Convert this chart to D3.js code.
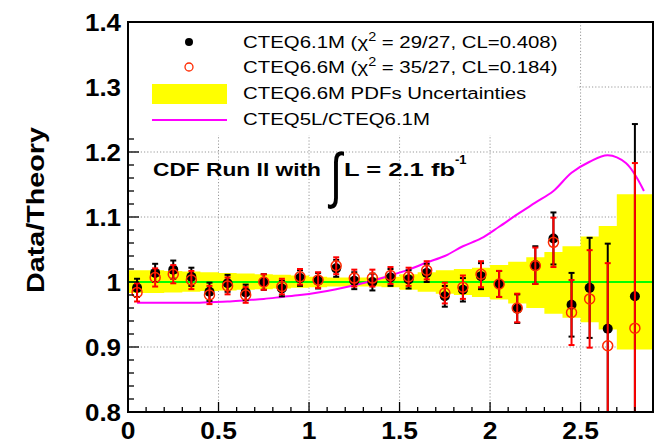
<!DOCTYPE html>
<html>
<head>
<meta charset="utf-8">
<script src="https://cdn.jsdelivr.net/npm/d3@7"></script>
<style>
  body { margin: 0; background: #fff; }
  svg { display: block; }
  text { font-family: "Liberation Sans", Arial, Helvetica, sans-serif; }
</style>
</head>
<body>
<script>
// Z boson rapidity bins: centers, measured Data/Theory ratios and errors
const rapidity = [0.05, 0.15, 0.25, 0.35, 0.45, 0.55, 0.65, 0.75, 0.85, 0.95,
                  1.05, 1.15, 1.25, 1.35, 1.45, 1.55, 1.65, 1.75, 1.85, 1.95,
                  2.05, 2.15, 2.25, 2.35, 2.45, 2.55, 2.65, 2.80];
const ratioCteq61 = [0.991, 1.014, 1.019, 1.008, 0.985, 0.998, 0.984, 1.000, 0.990, 1.006,
                     1.002, 1.021, 1.002, 1.000, 1.007, 1.004, 1.014, 0.978, 0.988, 1.009,
                     0.997, 0.959, 1.026, 1.067, 0.965, 0.991, 0.928, 0.978];
const errCteq61   = [0.014, 0.014, 0.014, 0.014, 0.014, 0.013, 0.012, 0.012, 0.012, 0.012,
                     0.012, 0.013, 0.013, 0.013, 0.013, 0.014, 0.014, 0.016, 0.018, 0.020,
                     0.020, 0.022, 0.029, 0.040, 0.049, 0.077, 0.131, 0.265];
const ratioCteq66 = [0.984, 1.007, 1.012, 1.003, 0.980, 0.994, 0.980, 1.000, 0.993, 1.008,
                     1.003, 1.025, 1.006, 1.006, 1.010, 1.008, 1.018, 0.983, 0.992, 1.012,
                     0.997, 0.960, 1.025, 1.061, 0.953, 0.974, 0.902, 0.929];
const errCteq66   = [0.014, 0.014, 0.014, 0.014, 0.014, 0.013, 0.012, 0.012, 0.012, 0.012,
                     0.012, 0.013, 0.013, 0.013, 0.013, 0.014, 0.014, 0.016, 0.018, 0.020,
                     0.020, 0.022, 0.028, 0.038, 0.050, 0.075, 0.127, 0.254];

// CTEQ6.6M PDF uncertainty band, one step per bin
const bandEdges = [0.0, 0.1, 0.2, 0.3, 0.4, 0.5, 0.6, 0.7, 0.8, 0.9, 1.0, 1.1, 1.2, 1.3, 1.4,
                   1.5, 1.6, 1.7, 1.8, 1.9, 2.0, 2.1, 2.2, 2.3, 2.4, 2.5, 2.6, 2.7, 2.9];
const bandUpper = [1.018, 1.018, 1.017, 1.016, 1.015, 1.014, 1.013, 1.012, 1.011, 1.010,
                   1.008, 1.007, 1.007, 1.007, 1.008, 1.012, 1.015, 1.018, 1.020, 1.022,
                   1.026, 1.031, 1.038, 1.046, 1.055, 1.070, 1.086, 1.135];
const bandLower = [0.983, 0.983, 0.984, 0.985, 0.986, 0.987, 0.988, 0.989, 0.990, 0.991,
                   0.992, 0.993, 0.993, 0.993, 0.992, 0.988, 0.985, 0.982, 0.980, 0.977,
                   0.973, 0.967, 0.960, 0.951, 0.945, 0.938, 0.927, 0.896];

// CTEQ5L / CTEQ6.1M prediction ratio
const cteq5lX     = [0.05, 0.15, 0.25, 0.35, 0.45, 0.55, 0.65, 0.75, 0.85, 0.95,
                     1.05, 1.15, 1.25, 1.35, 1.45, 1.55, 1.65, 1.75, 1.85, 1.95,
                     2.05, 2.15, 2.25, 2.35, 2.45, 2.55, 2.65, 2.75, 2.85];
const cteq5lRatio = [0.968, 0.968, 0.968, 0.968, 0.969, 0.970, 0.972, 0.974, 0.977, 0.980,
                     0.984, 0.989, 0.995, 1.002, 1.010, 1.019, 1.030, 1.040, 1.055, 1.067,
                     1.085, 1.104, 1.122, 1.140, 1.168, 1.185, 1.195, 1.183, 1.140];

const xTicks = [0, 0.5, 1, 1.5, 2, 2.5];
const xTickLabels = ["0", "0.5", "1", "1.5", "2", "2.5"];
const yTicks = [0.8, 0.9, 1.0, 1.1, 1.2, 1.3, 1.4];
const yTickLabels = ["0.8", "0.9", "1", "1.1", "1.2", "1.3", "1.4"];

const W = 660, H = 447;
const plot = { left: 128, right: 653, top: 22, bottom: 412 };

const svg = d3.select("body").append("svg")
  .attr("width", W).attr("height", H);

const x = d3.scaleLinear().domain([0, 2.9]).range([plot.left, plot.right]);
const y = d3.scaleLinear().domain([0.8, 1.4]).range([plot.bottom, plot.top]);

svg.append("defs").append("clipPath").attr("id", "plotClip")
  .append("rect")
  .attr("x", plot.left).attr("y", plot.top)
  .attr("width", plot.right - plot.left).attr("height", plot.bottom - plot.top);

// grid
const grid = svg.append("g").attr("stroke", "#999").attr("stroke-width", 1)
  .attr("stroke-dasharray", "1.2,2");
xTicks.filter(d => d > 0).forEach(d => {
  grid.append("line").attr("x1", x(d)).attr("x2", x(d))
    .attr("y1", plot.top).attr("y2", plot.bottom);
});
yTicks.filter(d => d > 0.8 && d < 1.4).forEach(d => {
  grid.append("line").attr("x1", plot.left).attr("x2", plot.right)
    .attr("y1", y(d)).attr("y2", y(d));
});

const g = svg.append("g").attr("clip-path", "url(#plotClip)");

// uncertainty band
const bandData = bandUpper.map((u, i) => ({ x: bandEdges[i], hi: u, lo: bandLower[i] }));
bandData.push({ x: bandEdges[bandEdges.length - 1], hi: bandUpper[bandUpper.length - 1], lo: bandLower[bandLower.length - 1] });
g.append("path")
  .datum(bandData)
  .attr("fill", "#ffff00")
  .attr("d", d3.area().curve(d3.curveStepAfter)
    .x(d => x(d.x)).y0(d => y(d.lo)).y1(d => y(d.hi)));

// unity line
g.append("line")
  .attr("x1", plot.left).attr("x2", plot.right)
  .attr("y1", y(1)).attr("y2", y(1))
  .attr("stroke", "#00ff00").attr("stroke-width", 2);

// CTEQ5L / CTEQ6.1M curve
g.append("path")
  .datum(cteq5lX.map((d, i) => [d, cteq5lRatio[i]]))
  .attr("fill", "none")
  .attr("stroke", "#ff00ff").attr("stroke-width", 2)
  .attr("d", d3.line().curve(d3.curveCatmullRom.alpha(0.5))
    .x(d => x(d[0])).y(d => y(d[1])));

// error bars with small end caps
function drawErrors(vals, errs, color) {
  const eg = g.append("g").attr("stroke", color).attr("stroke-width", 2);
  rapidity.forEach((r, i) => {
    const cx = x(r), y1 = y(vals[i] + errs[i]), y2 = y(vals[i] - errs[i]);
    eg.append("line").attr("x1", cx).attr("x2", cx).attr("y1", y1).attr("y2", y2);
    eg.append("line").attr("x1", cx - 3).attr("x2", cx + 3).attr("y1", y1).attr("y2", y1);
    eg.append("line").attr("x1", cx - 3).attr("x2", cx + 3).attr("y1", y2).attr("y2", y2);
  });
}

drawErrors(ratioCteq61, errCteq61, "#000");
g.append("g").selectAll("circle")
  .data(rapidity)
  .join("circle")
  .attr("cx", d => x(d)).attr("cy", (d, i) => y(ratioCteq61[i]))
  .attr("r", 5).attr("fill", "#000");

drawErrors(ratioCteq66, errCteq66, "#ff0000");
g.append("g").selectAll("circle")
  .data(rapidity)
  .join("circle")
  .attr("cx", d => x(d)).attr("cy", (d, i) => y(ratioCteq66[i]))
  .attr("r", 5).attr("fill", "none")
  .attr("stroke", "#ff2a00").attr("stroke-width", 1.5);

// frame
svg.append("rect")
  .attr("x", plot.left).attr("y", plot.top)
  .attr("width", plot.right - plot.left).attr("height", plot.bottom - plot.top)
  .attr("fill", "none").attr("stroke", "#000").attr("stroke-width", 2);

// ticks (inward)
const ticks = svg.append("g").attr("stroke", "#000").attr("stroke-width", 1.3);
d3.range(0, 2.9001, 0.1).forEach(v => {
  const major = Math.abs(v * 2 - Math.round(v * 2)) < 1e-6;
  ticks.append("line").attr("x1", x(v)).attr("x2", x(v))
    .attr("y1", plot.bottom).attr("y2", plot.bottom - (major ? 10 : 5));
});
d3.range(0.8, 1.4001, 0.02).forEach(v => {
  const major = Math.abs(v * 10 - Math.round(v * 10)) < 1e-6;
  ticks.append("line").attr("y1", y(v)).attr("y2", y(v))
    .attr("x1", plot.left).attr("x2", plot.left + (major ? 11 : 6));
});

// tick labels
svg.append("g").selectAll("text")
  .data(xTicks)
  .join("text")
  .attr("transform", d => `translate(${x(d)}, 438.5) scale(1.1, 1)`)
  .attr("text-anchor", "middle")
  .attr("font-size", 24).attr("font-weight", "bold")
  .text((d, i) => xTickLabels[i]);

svg.append("g").selectAll("text")
  .data(yTicks)
  .join("text")
  .attr("transform", d => `translate(121, ${y(d) + 8.8}) scale(1.08, 1)`)
  .attr("text-anchor", "end")
  .attr("font-size", 24).attr("font-weight", "bold")
  .text((d, i) => yTickLabels[i]);

// axis title
svg.append("text")
  .attr("transform", `translate(44, 210) rotate(-90)`)
  .attr("text-anchor", "middle")
  .attr("font-size", 24).attr("font-weight", "bold")
  .attr("textLength", 166).attr("lengthAdjust", "spacingAndGlyphs")
  .text("Data/Theory");

// legend
const legend = svg.append("g");
legend.append("rect").attr("x", plot.left + 1).attr("y", plot.top + 1)
  .attr("width", 448).attr("height", 112).attr("fill", "#fff");
legend.append("circle").attr("cx", 189).attr("cy", 42).attr("r", 4).attr("fill", "#000");
legend.append("circle").attr("cx", 189).attr("cy", 67).attr("r", 4)
  .attr("fill", "none").attr("stroke", "#ff2a00").attr("stroke-width", 1.3);
legend.append("rect").attr("x", 152).attr("y", 84).attr("width", 75).attr("height", 20)
  .attr("fill", "#ffff00");
legend.append("line").attr("x1", 152).attr("x2", 227).attr("y1", 120).attr("y2", 120)
  .attr("stroke", "#ff00ff").attr("stroke-width", 2);

function legendText(yPos) {
  return legend.append("text")
    .attr("transform", `translate(243, ${yPos}) scale(1.2, 1)`)
    .attr("font-size", 17);
}
function chiLabel(yPos, pre, post) {
  const t = legendText(yPos);
  t.append("tspan").text(pre + " (\u03c7");
  t.append("tspan").attr("dy", -7).attr("font-size", 12).text("2");
  t.append("tspan").attr("dy", 7).text(post);
}
chiLabel(48, "CTEQ6.1M", " = 29/27, CL=0.408)");
chiLabel(73, "CTEQ6.6M", " = 35/27, CL=0.184)");
legendText(99).text("CTEQ6.6M PDFs Uncertainties");
legendText(125).text("CTEQ5L/CTEQ6.1M");

// luminosity annotation
const ann = svg.append("g").attr("font-weight", "bold");
ann.append("text").attr("x", 153).attr("y", 176).attr("font-size", 18)
  .attr("textLength", 168).attr("lengthAdjust", "spacingAndGlyphs")
  .text("CDF Run II with");
ann.append("text").attr("transform", "translate(336, 196) scale(0.75, 1.05)")
  .attr("text-anchor", "middle").attr("font-size", 58).attr("font-weight", "normal")
  .attr("font-family", "DejaVu Sans")
  .text("\u222b");
ann.append("text").attr("x", 344).attr("y", 176).attr("font-size", 18)
  .attr("textLength", 111).attr("lengthAdjust", "spacingAndGlyphs")
  .text("L = 2.1 fb");
ann.append("text").attr("x", 455).attr("y", 164).attr("font-size", 13)
  .text("-1");
</script>
</body>
</html>
